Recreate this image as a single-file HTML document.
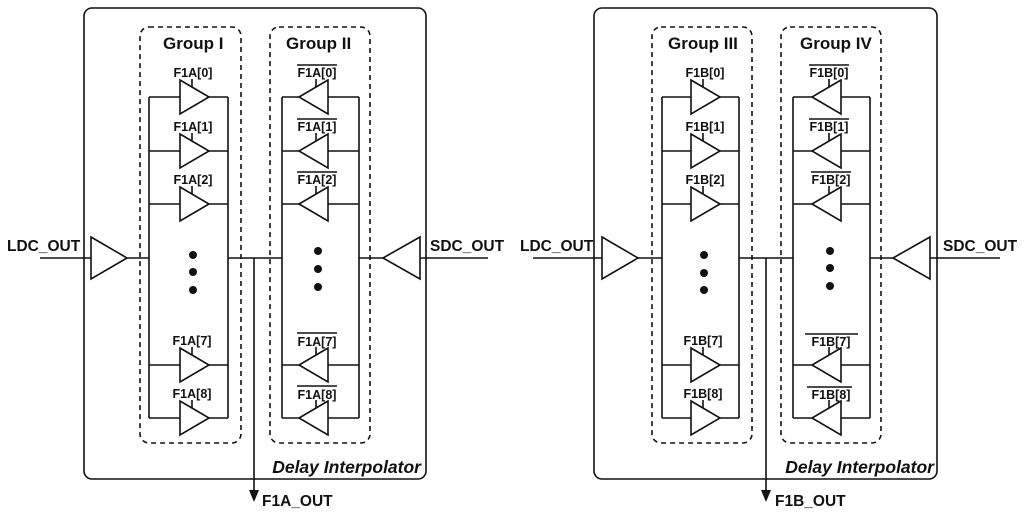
<!DOCTYPE html>
<html><head><meta charset="utf-8"><style>body{margin:0;background:#fff}svg{display:block}text{font-family:"Liberation Sans",sans-serif;font-weight:bold;fill:#111}</style></head><body>
<svg width="1024" height="516" viewBox="0 0 1024 516" xmlns="http://www.w3.org/2000/svg">
<defs>
<g id="r"><path d="M0,-17 L29,0 L0,17 Z" fill="#fff" stroke="#111" stroke-width="1.6"/><line x1="12" y1="-18" x2="12" y2="-10" stroke="#111" stroke-width="1.6"/></g>
<g id="l"><path d="M29,-17 L0,0 L29,17 Z" fill="#fff" stroke="#111" stroke-width="1.6"/><line x1="17" y1="-18" x2="17" y2="-10" stroke="#111" stroke-width="1.6"/></g>
</defs>
<g stroke="#111" stroke-width="1.6" fill="none">
<rect x="84" y="8" width="342" height="471" rx="8"/>
<rect x="140" y="27" width="101" height="416" rx="9" stroke-dasharray="5,4"/>
<rect x="270" y="27" width="100" height="416" rx="9" stroke-dasharray="5,4"/>
<path d="M149,97V418M228,97V418M282,97V418M359,97V418"/>
<path d="M149,97H180M209,97H228M149,151H180M209,151H228M149,204H180M209,204H228M149,365H180M209,365H228M149,418H180M209,418H228"/>
<path d="M282,97H299M328,97H359M282,151H299M328,151H359M282,204H299M328,204H359M282,365H299M328,365H359M282,418H299M328,418H359"/>
<path d="M40,258H91M127,258H149M228,258H282M359,258H383M420,258H488"/>
<path d="M91,237L127,258L91,279Z M420,237L383,258L420,279Z" fill="#fff"/>
<line x1="254" y1="258" x2="254" y2="492"/>
<rect x="594" y="8" width="343" height="471" rx="8"/>
<rect x="652" y="27" width="100" height="416" rx="9" stroke-dasharray="5,4"/>
<rect x="781" y="27" width="100" height="416" rx="9" stroke-dasharray="5,4"/>
<path d="M662,97V418M739,97V418M793,97V418M870,97V418"/>
<path d="M662,97H691M720,97H739M662,151H691M720,151H739M662,204H691M720,204H739M662,365H691M720,365H739M662,418H691M720,418H739"/>
<path d="M793,97H812M841,97H870M793,151H812M841,151H870M793,204H812M841,204H870M793,365H812M841,365H870M793,418H812M841,418H870"/>
<path d="M533,258H602M638,258H662M739,258H793M870,258H893M930,258H1000"/>
<path d="M602,237L638,258L602,279Z M930,237L893,258L930,279Z" fill="#fff"/>
<line x1="766" y1="258" x2="766" y2="492"/>
<path d="M297,65H337M297,119H337M297,172H337M297,333H337M297,386H337"/>
<path d="M809,65H849M809,119H849M811,172H851M805,334H858M807,387H852"/>
</g>
<path d="M249,490H259L254,502Z M761,490H771L766,502Z" fill="#111"/>
<g>
<use href="#r" x="180" y="97"/><use href="#r" x="180" y="151"/><use href="#r" x="180" y="204"/><use href="#r" x="180" y="365"/><use href="#r" x="180" y="418"/>
<use href="#l" x="299" y="97"/><use href="#l" x="299" y="151"/><use href="#l" x="299" y="204"/><use href="#l" x="299" y="365"/><use href="#l" x="299" y="418"/>
<use href="#r" x="691" y="97"/><use href="#r" x="691" y="151"/><use href="#r" x="691" y="204"/><use href="#r" x="691" y="365"/><use href="#r" x="691" y="418"/>
<use href="#l" x="812" y="97"/><use href="#l" x="812" y="151"/><use href="#l" x="812" y="204"/><use href="#l" x="812" y="365"/><use href="#l" x="812" y="418"/>
</g>
<g fill="#111">
<circle cx="193" cy="255" r="4"/><circle cx="193" cy="272" r="4"/><circle cx="193" cy="290" r="4"/>
<circle cx="318" cy="251" r="4"/><circle cx="318" cy="269" r="4"/><circle cx="318" cy="287" r="4"/>
<circle cx="704" cy="255" r="4"/><circle cx="704" cy="273" r="4"/><circle cx="704" cy="290" r="4"/>
<circle cx="830" cy="251" r="4"/><circle cx="830" cy="268" r="4"/><circle cx="830" cy="286" r="4"/>
</g>
<g font-size="17">
<text x="163" y="49">Group I</text><text x="286" y="49">Group II</text>
<text x="668" y="49">Group III</text><text x="800" y="49">Group IV</text>
</g>
<g font-size="12.5" text-anchor="middle">
<text x="193" y="77">F1A[0]</text><text x="193" y="131">F1A[1]</text><text x="193" y="184">F1A[2]</text><text x="192" y="345">F1A[7]</text><text x="192" y="398">F1A[8]</text>
<text x="317" y="77">F1A[0]</text><text x="317" y="131">F1A[1]</text><text x="317" y="184">F1A[2]</text><text x="317" y="346">F1A[7]</text><text x="317" y="399">F1A[8]</text>
<text x="705" y="77">F1B[0]</text><text x="705" y="131">F1B[1]</text><text x="705" y="184">F1B[2]</text><text x="703" y="345">F1B[7]</text><text x="703" y="398">F1B[8]</text>
<text x="829" y="77">F1B[0]</text><text x="829" y="131">F1B[1]</text><text x="831" y="184">F1B[2]</text><text x="831" y="346">F1B[7]</text><text x="831" y="399">F1B[8]</text>
</g>
<g font-size="15.5">
<text x="7" y="251">LDC_OUT</text><text x="430" y="251">SDC_OUT</text>
<text x="520" y="251">LDC_OUT</text><text x="943" y="251">SDC_OUT</text>
<text x="262" y="506">F1A_OUT</text><text x="775" y="506">F1B_OUT</text>
</g>
<g font-size="17.5" font-style="italic" text-anchor="end">
<text x="421" y="473">Delay Interpolator</text><text x="934" y="473">Delay Interpolator</text>
</g>
</svg>
</body></html>
